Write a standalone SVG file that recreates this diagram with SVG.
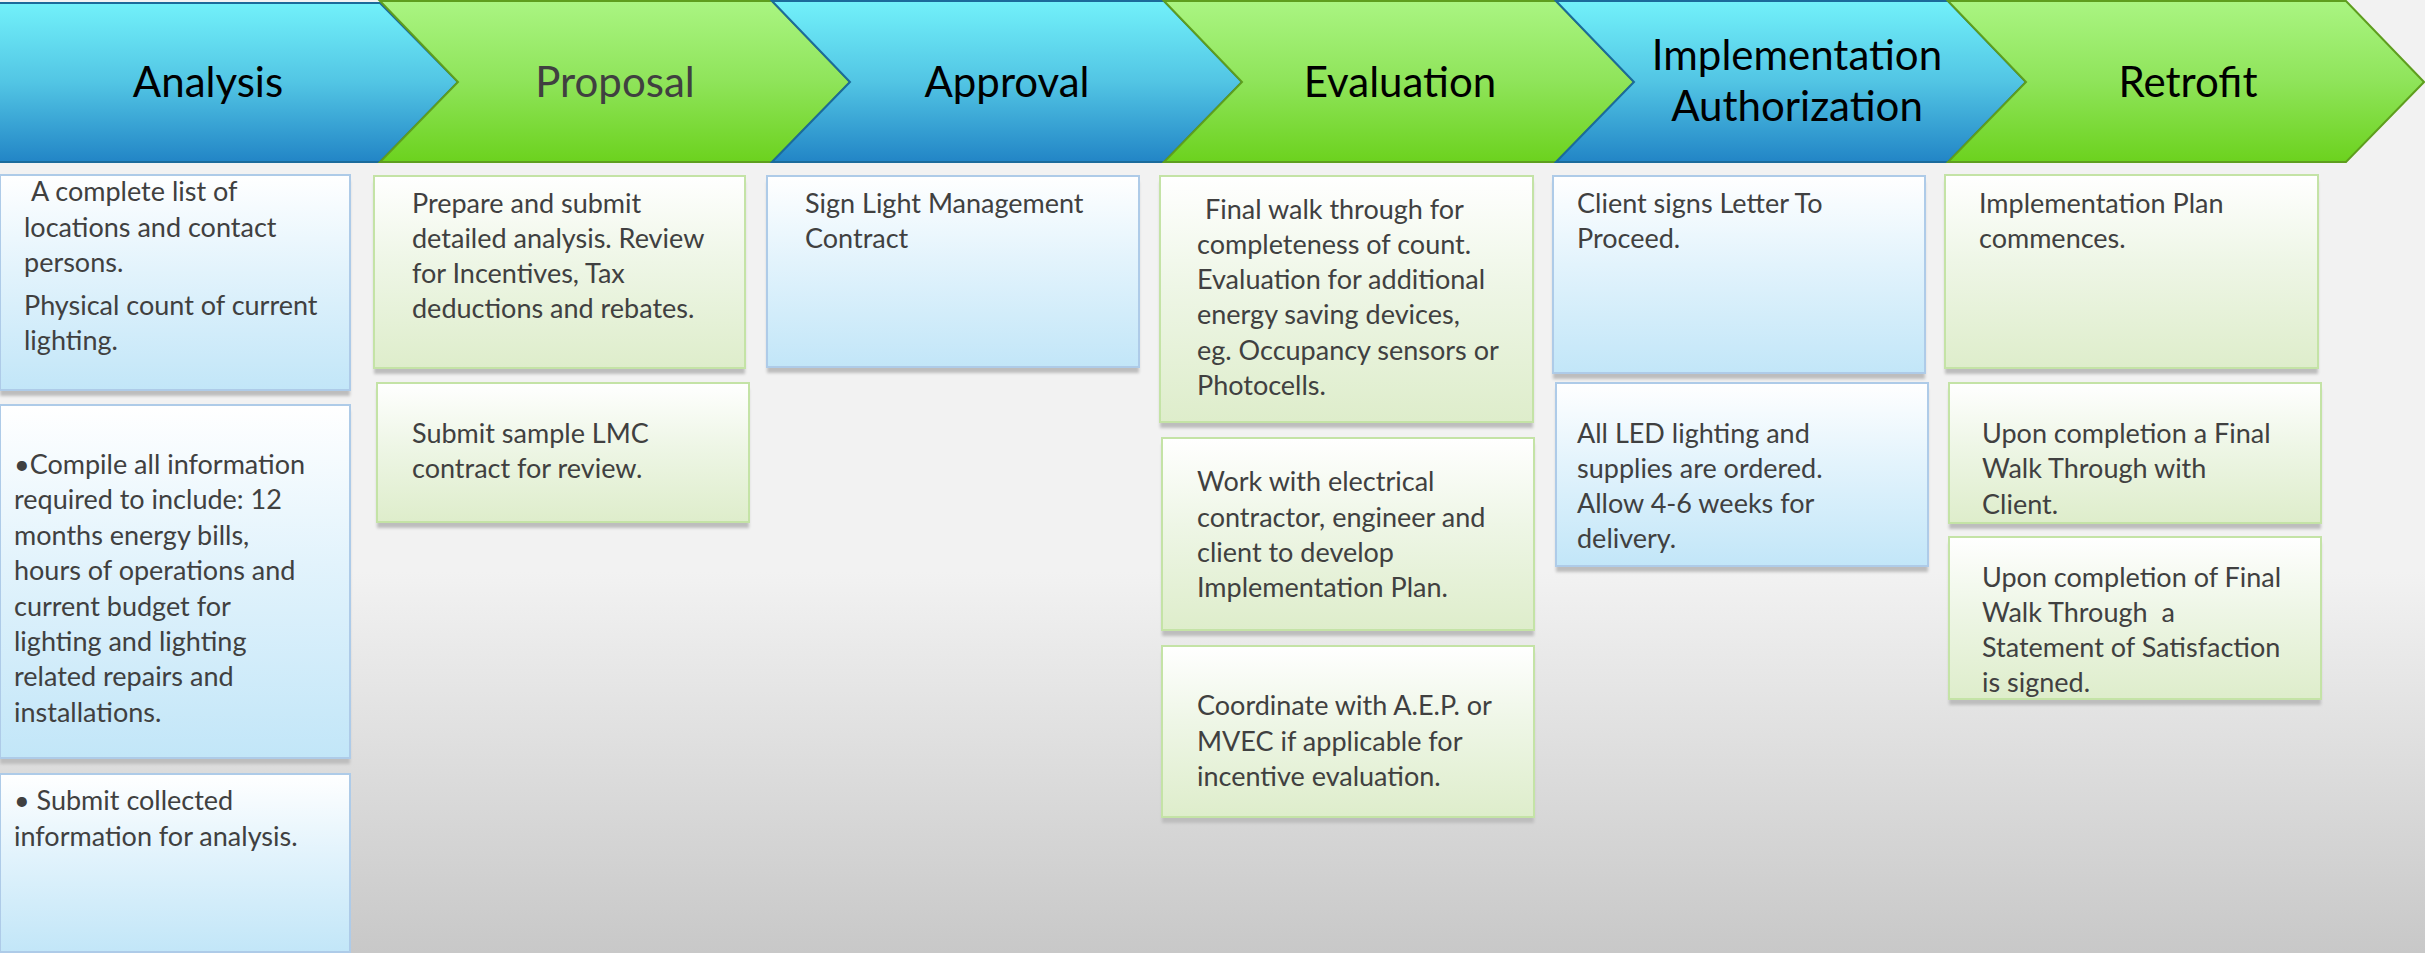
<svg xmlns="http://www.w3.org/2000/svg" width="2425" height="953" viewBox="0 0 2425 953">
<defs>
<linearGradient id="bg" x1="0" y1="0" x2="0" y2="1">
<stop offset="0" stop-color="#F2F2F2"/><stop offset="0.6" stop-color="#F2F2F2"/><stop offset="1" stop-color="#C8C8C8"/>
</linearGradient>
<linearGradient id="chB" x1="0" y1="0" x2="0" y2="1">
<stop offset="0" stop-color="#72F1FA"/><stop offset="0.5" stop-color="#52C5E4"/><stop offset="1" stop-color="#2285C6"/>
</linearGradient>
<linearGradient id="chG" x1="0" y1="0" x2="0" y2="1">
<stop offset="0" stop-color="#AAF582"/><stop offset="0.5" stop-color="#8FE45A"/><stop offset="1" stop-color="#6CD21E"/>
</linearGradient>
<linearGradient id="bxB" x1="0" y1="0" x2="0" y2="1">
<stop offset="0" stop-color="#FFFFFF"/><stop offset="0.45" stop-color="#E2F3FC"/><stop offset="1" stop-color="#C2E6F8"/>
</linearGradient>
<linearGradient id="bxG" x1="0" y1="0" x2="0" y2="1">
<stop offset="0" stop-color="#FFFFFF"/><stop offset="0.45" stop-color="#EEF6E6"/><stop offset="1" stop-color="#DEEDCB"/>
</linearGradient>
<filter id="sh" x="-5%" y="-5%" width="110%" height="120%"><feGaussianBlur stdDeviation="1.5"/></filter>
</defs>
<style>
.cb{fill:url(#chB);stroke:#1B6B9B;stroke-width:2}
.cg{fill:url(#chG);stroke:#5E9E1E;stroke-width:2}
.ct{font-family:Lato,"Liberation Sans",sans-serif;font-size:42px;fill:#000;text-anchor:middle}
.bb{fill:url(#bxB);stroke:#AECBE8;stroke-width:2}
.bg{fill:url(#bxG);stroke:#C4E3A6;stroke-width:2}
.sd{fill:#BDBDBD;filter:url(#sh)}
.t{font-family:Lato,"Liberation Sans",sans-serif;font-size:27px;fill:#404040}
</style>
<rect x="0" y="0" width="2425" height="953" fill="url(#bg)"/>

<g id="stage-analysis">
<polygon class="cb" points="-2,3 380,3 458,82 380,162 -2,162"/>
<text class="ct" x="208" y="97">Analysis</text>
</g>
<g id="stage-proposal">
<polygon class="cg" points="380,1 772,1 850,82 772,162 380,162 458,82"/>
<text class="ct" x="615" y="97" style="fill:#404040">Proposal</text>
</g>
<g id="stage-approval">
<polygon class="cb" points="772,1 1164,1 1242,82 1164,162 772,162 850,82"/>
<text class="ct" x="1007" y="97">Approval</text>
</g>
<g id="stage-evaluation">
<polygon class="cg" points="1164,1 1556,1 1634,82 1556,162 1164,162 1242,82"/>
<text class="ct" x="1400" y="97">Evaluation</text>
</g>
<g id="stage-implementation">
<polygon class="cb" points="1556,1 1948,1 2026,82 1948,162 1556,162 1634,82"/>
<text class="ct" x="1797" y="70">Implementation</text>
<text class="ct" x="1797" y="121">Authorization</text>
</g>
<g id="stage-retrofit">
<polygon class="cg" points="1948,1 2346,1 2424,82 2346,162 1948,162 2026,82"/>
<text class="ct" x="2188" y="97">Retrofit</text>
</g>

<g id="box-a1">
<rect class="sd" x="0" y="181" width="350" height="215"/>
<rect class="bb" x="0" y="175" width="350" height="215"/>
<text class="t"><tspan x="31" y="201">A complete list of</tspan><tspan x="24" y="237">locations and contact</tspan><tspan x="24" y="272">persons.</tspan><tspan x="24" y="315">Physical count of current</tspan><tspan x="24" y="350">lighting.</tspan></text>
</g>
<g id="box-a2">
<rect class="sd" x="0" y="411" width="350" height="353"/>
<rect class="bb" x="0" y="405" width="350" height="353"/>
<text class="t"><tspan x="14" y="474">•Compile all information</tspan><tspan x="14" y="509.4">required to include: 12</tspan><tspan x="14" y="544.8">months energy bills,</tspan><tspan x="14" y="580.2">hours of operations and</tspan><tspan x="14" y="615.6">current budget for</tspan><tspan x="14" y="651">lighting and lighting</tspan><tspan x="14" y="686.4">related repairs and</tspan><tspan x="14" y="721.8">installations.</tspan></text>
</g>
<g id="box-a3">
<rect class="bb" x="0" y="774" width="350" height="178"/>
<text class="t"><tspan x="14" y="810">• Submit collected</tspan><tspan x="14" y="846">information for analysis.</tspan></text>
</g>

<g id="box-p1">
<rect class="sd" x="374" y="182" width="371" height="192"/>
<rect class="bg" x="374" y="176" width="371" height="192"/>
<text class="t"><tspan x="412" y="213">Prepare and submit</tspan><tspan x="412" y="248">detailed analysis. Review</tspan><tspan x="412" y="283">for Incentives, Tax</tspan><tspan x="412" y="318">deductions and rebates.</tspan></text>
</g>
<g id="box-p2">
<rect class="sd" x="377" y="389" width="372" height="139"/>
<rect class="bg" x="377" y="383" width="372" height="139"/>
<text class="t"><tspan x="412" y="443">Submit sample LMC</tspan><tspan x="412" y="478">contract for review.</tspan></text>
</g>

<g id="box-ap1">
<rect class="sd" x="767" y="182" width="372" height="191"/>
<rect class="bb" x="767" y="176" width="372" height="191"/>
<text class="t"><tspan x="805" y="213">Sign Light Management</tspan><tspan x="805" y="248">Contract</tspan></text>
</g>

<g id="box-e1">
<rect class="sd" x="1160" y="182" width="373" height="246"/>
<rect class="bg" x="1160" y="176" width="373" height="246"/>
<text class="t"><tspan x="1205" y="219">Final walk through for</tspan><tspan x="1197" y="254">completeness of count.</tspan><tspan x="1197" y="289">Evaluation for additional</tspan><tspan x="1197" y="324">energy saving devices,</tspan><tspan x="1197" y="360">eg. Occupancy sensors or</tspan><tspan x="1197" y="395">Photocells.</tspan></text>
</g>
<g id="box-e2">
<rect class="sd" x="1162" y="444" width="372" height="192"/>
<rect class="bg" x="1162" y="438" width="372" height="192"/>
<text class="t"><tspan x="1197" y="491">Work with electrical</tspan><tspan x="1197" y="527">contractor, engineer and</tspan><tspan x="1197" y="562">client to develop</tspan><tspan x="1197" y="597">Implementation Plan.</tspan></text>
</g>
<g id="box-e3">
<rect class="sd" x="1162" y="652" width="372" height="171"/>
<rect class="bg" x="1162" y="646" width="372" height="171"/>
<text class="t"><tspan x="1197" y="715">Coordinate with A.E.P. or</tspan><tspan x="1197" y="751">MVEC if applicable for</tspan><tspan x="1197" y="786">incentive evaluation.</tspan></text>
</g>

<g id="box-i1">
<rect class="sd" x="1553" y="182" width="372" height="197"/>
<rect class="bb" x="1553" y="176" width="372" height="197"/>
<text class="t"><tspan x="1577" y="213">Client signs Letter To</tspan><tspan x="1577" y="248">Proceed.</tspan></text>
</g>
<g id="box-i2">
<rect class="sd" x="1556" y="389" width="372" height="183"/>
<rect class="bb" x="1556" y="383" width="372" height="183"/>
<text class="t"><tspan x="1577" y="443">All LED lighting and</tspan><tspan x="1577" y="478">supplies are ordered.</tspan><tspan x="1577" y="513">Allow 4-6 weeks for</tspan><tspan x="1577" y="548">delivery.</tspan></text>
</g>

<g id="box-r1">
<rect class="sd" x="1945" y="181" width="373" height="193"/>
<rect class="bg" x="1945" y="175" width="373" height="193"/>
<text class="t"><tspan x="1979" y="213">Implementation Plan</tspan><tspan x="1979" y="248">commences.</tspan></text>
</g>
<g id="box-r2">
<rect class="sd" x="1949" y="389" width="372" height="140"/>
<rect class="bg" x="1949" y="383" width="372" height="140"/>
<text class="t"><tspan x="1982" y="443">Upon completion a Final</tspan><tspan x="1982" y="478">Walk Through with</tspan><tspan x="1982" y="514">Client.</tspan></text>
</g>
<g id="box-r3">
<rect class="sd" x="1949" y="543" width="372" height="162"/>
<rect class="bg" x="1949" y="537" width="372" height="162"/>
<text class="t"><tspan x="1982" y="587">Upon completion of Final</tspan><tspan x="1982" y="622">Walk Through&#160; a</tspan><tspan x="1982" y="657">Statement of Satisfaction</tspan><tspan x="1982" y="692">is signed.</tspan></text>
</g>

<g id="connectors"></g>
</svg>
